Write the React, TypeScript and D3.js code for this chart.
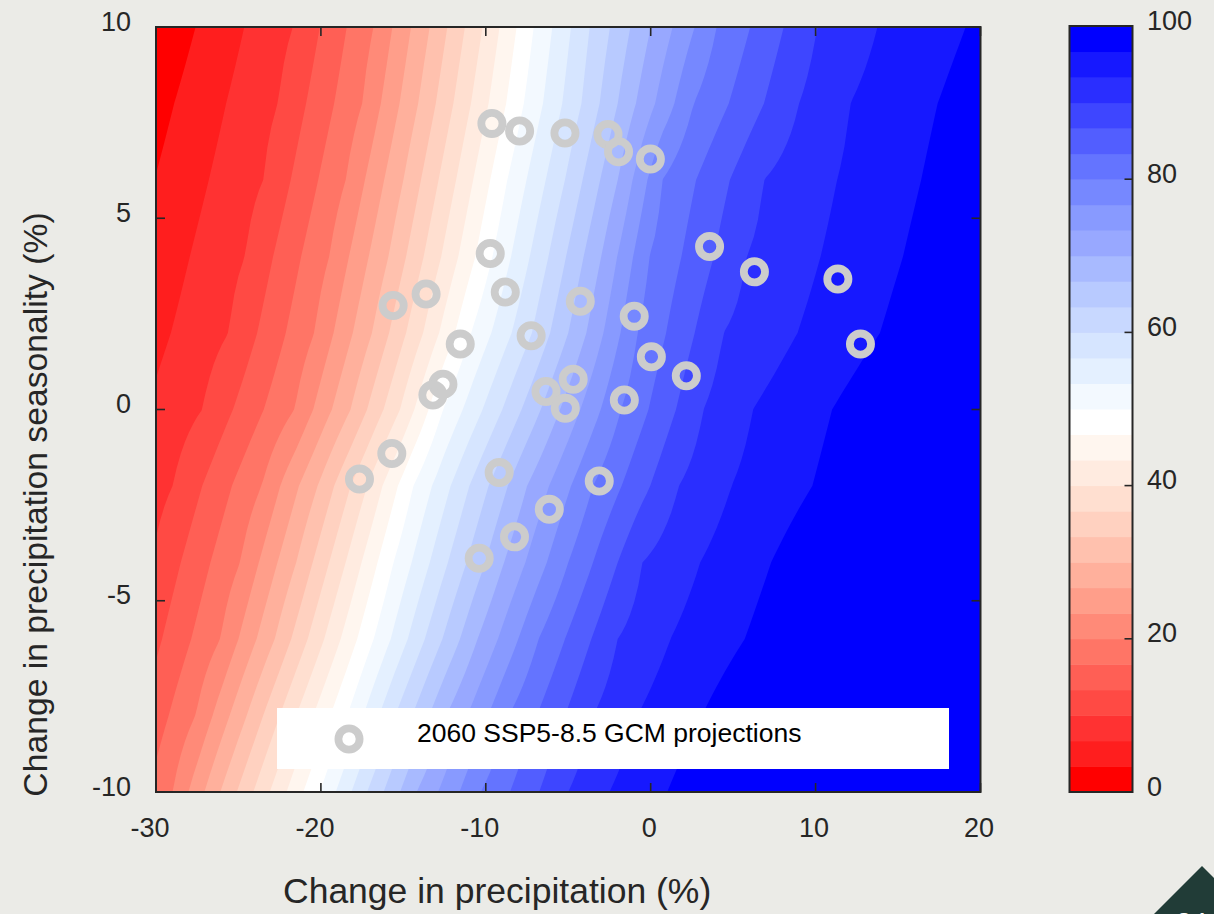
import React, { useMemo } from 'react';
import * as d3 from 'd3';

// ---------- data ----------
// contour rows (y values, %) and, for each row, the x positions (%) of the isolines
const rowY = [10, 8, 6, 4, 2, 0, -2, -4, -6, -8, -10];
const isoLevels = [100 / 30, 10, 20, 30, 40, 50, 60, 70, 80, 90, 280 / 3, 290 / 3];
const isoY10 = [-27.6, -21.7, -16.8, -13.4, -10.2, -7.1, -3.7, 0.0, 4.0, 10.1, 13.75, 19.1];
const isoY8 = [-28.9, -22.6, -17.5, -14.1, -10.9, -7.7, -4.2, -0.9, 2.6, 9.0, 12.1, 17.4];
const isoY6 = [-30.1, -23.5, -18.5, -15.0, -11.8, -8.7, -5.2, -2.0, 0.7, 6.85, 11.3, 16.4];
const isoY4 = [-31.3, -24.6, -19.5, -15.9, -12.7, -9.6, -6.2, -3.0, -0.1, 5.8, 10.3, 15.3];
const isoY2 = [-32.6, -25.6, -20.4, -16.9, -13.8, -10.9, -7.2, -3.9, -0.8, 4.4, 8.9, 13.9];
const isoY0 = [-34.0, -27.2, -21.6, -18.2, -15.2, -12.6, -9.0, -5.5, -1.8, 3.2, 6.2, 11.0];
const isoYm2 = [-35.0, -29.0, -23.6, -20.2, -17.2, -14.4, -11.0, -7.5, -3.5, 1.7, 4.9, 9.8];
const isoYm4 = [-36.0, -30.3, -24.9, -21.5, -18.5, -15.6, -12.3, -8.9, -5.0, -0.5, 3.0, 7.3];
const isoYm6 = [-37.0, -31.4, -26.1, -22.8, -19.8, -16.8, -13.7, -10.5, -6.8, -2.0, 1.2, 5.7];
const isoYm8 = [-38.0, -32.5, -27.6, -24.5, -21.5, -18.4, -15.5, -12.4, -8.6, -3.5, -0.8, 3.1];
const isoYm10 = [-39.0, -33.5, -29.0, -26.1, -23.1, -20.05, -17.2, -14.2, -10.3, -5.0, -2.5, 1.0];

// GCM projections: change in precipitation (%), change in seasonality (%)
const gcmX = [-9.63, -7.95, -5.2, -2.59, -1.95, -0.02, -9.73, 3.57, 6.29, 11.35, 12.72, -15.62, -13.62, -8.82, -4.27, -1.0, -11.55, -7.25, 0.04, 2.16, -12.6, -13.21, -6.35, -4.7, -5.18, -1.6, -15.7, -17.66, -9.19, -3.12, -6.15, -8.26, -10.4];
const gcmY = [7.48, 7.28, 7.23, 7.19, 6.74, 6.55, 4.08, 4.26, 3.6, 3.41, 1.71, 2.72, 3.02, 3.07, 2.83, 2.44, 1.71, 1.93, 1.38, 0.88, 0.66, 0.38, 0.47, 0.79, 0.03, 0.25, -1.15, -1.82, -1.65, -1.87, -2.61, -3.33, -3.89];

const xTicks = [-30, -20, -10, 0, 10, 20];
const yTicks = [-10, -5, 0, 5, 10];
const cbTicks = [0, 20, 40, 60, 80, 100];

// 30 colour levels (0 -> 100)
const levelColors = [
  '#ff0000', '#ff1e1e', '#ff3232', '#ff4a44', '#ff5f55', '#ff7566', '#ff8a78', '#ff9e8a',
  '#ffb09c', '#ffc1ae', '#ffd1c0', '#ffdfd0', '#ffebe0', '#fff6ef', '#ffffff',
  '#f3f9ff', '#e4f0ff', '#d6e5ff', '#c8d8ff', '#b8caff', '#a8baff', '#98a8ff', '#889aff',
  '#7688ff', '#6474ff', '#525eff', '#3e46ff', '#2a2eff', '#1618ff', '#0000ff',
];

const legendLabel = '2060 SSP5-8.5 GCM projections';
const xLabel = 'Change in precipitation (%)';
const yLabel = 'Change in precipitation seasonality (%)';

const FONT = '"Liberation Sans", Arial, Helvetica, sans-serif';

function rowValue(knots: number[], xv: number): number {
  const L = isoLevels;
  const n = knots.length;
  let v: number;
  if (xv <= knots[0]) {
    const s = (L[1] - L[0]) / (knots[1] - knots[0]);
    v = L[0] + (xv - knots[0]) * s;
  } else if (xv >= knots[n - 1]) {
    const s = (L[n - 1] - L[n - 2]) / (knots[n - 1] - knots[n - 2]);
    v = L[n - 1] + (xv - knots[n - 1]) * s;
  } else {
    let k = 0;
    while (k < n - 2 && xv > knots[k + 1]) k++;
    const t = (xv - knots[k]) / (knots[k + 1] - knots[k]);
    v = L[k] + t * (L[k + 1] - L[k]);
  }
  return Math.max(0, Math.min(100, v));
}

export default function App() {
  const W = 1214;
  const H = 914;
  const x = d3.scaleLinear().domain([-30, 20]).range([156, 980.5]);
  const y = d3.scaleLinear().domain([-10, 10]).range([792, 27]);
  const cb = d3.scaleLinear().domain([0, 100]).range([792, 26]);

  const paths = useMemo(() => {
    const rows = [isoY10, isoY8, isoY6, isoY4, isoY2, isoY0, isoYm2, isoYm4, isoYm6, isoYm8, isoYm10];
    const dxs = 0.25;
    const NX = Math.round(50 / dxs) + 1;
    const NY = rows.length;
    const values: number[] = new Array(NX * NY);
    for (let j = 0; j < NY; j++) {
      for (let i = 0; i < NX; i++) {
        values[j * NX + i] = rowValue(rows[j], -30 + i * dxs);
      }
    }
    const thresholds = d3.range(30).map((k) => (k * 100) / 30);
    const contours = d3.contours().size([NX, NY]).thresholds(thresholds)(values);
    const dy = rowY[0] - rowY[1];
    const proj = d3.geoTransform({
      point(px: number, py: number) {
        (this as any).stream.point(x(-30 + (px - 0.5) * dxs), y(rowY[0] - (py - 0.5) * dy));
      },
    });
    const gp = d3.geoPath(proj as any);
    return contours.map((c, k) => ({ d: gp(c as any) || '', color: levelColors[k] }));
  }, []);

  const axisColor = '#262626';
  const tickFs = 27;
  const x0 = x(-30), x1 = x(20), y0 = y(10), y1 = y(-10);
  const cbL = 1069.5, cbR = 1132.5;

  return (
    <svg width={W} height={H} style={{ position: 'absolute', left: 0, top: 0 }} fontFamily={FONT}>
      <rect x={0} y={0} width={W} height={H} fill="#ebebe7" />
      <defs>
        <clipPath id="plotclip">
          <rect x={x0} y={y0} width={x1 - x0} height={y1 - y0} />
        </clipPath>
      </defs>
      <g clipPath="url(#plotclip)">
        {paths.map((p, k) => (
          <path key={k} d={p.d} fill={p.color} stroke="none" />
        ))}
      </g>
      {/* axes box and ticks */}
      <rect x={x0} y={y0} width={x1 - x0} height={y1 - y0} fill="none" stroke={axisColor} strokeWidth={2} />
      {xTicks.map((v) => (
        <g key={'xt' + v}>
          <line x1={x(v)} x2={x(v)} y1={y1} y2={y1 - 9} stroke={axisColor} strokeWidth={1.6} />
          <line x1={x(v)} x2={x(v)} y1={y0} y2={y0 + 9} stroke={axisColor} strokeWidth={1.6} />
          <text
            x={x(v) + (String(Math.abs(v)).length * 0.556 * tickFs) / 2 - 1.5}
            y={836.5}
            textAnchor="end"
            fontSize={tickFs}
            fill={axisColor}
          >
            {String(v)}
          </text>
        </g>
      ))}
      {yTicks.map((v) => (
        <g key={'yt' + v}>
          <line x1={x0} x2={x0 + 9} y1={y(v)} y2={y(v)} stroke={axisColor} strokeWidth={1.6} />
          <line x1={x1} x2={x1 - 9} y1={y(v)} y2={y(v)} stroke={axisColor} strokeWidth={1.6} />
          <text x={131} y={y(v) + 3.7} textAnchor="end" fontSize={tickFs} fill={axisColor}>
            {String(v)}
          </text>
        </g>
      ))}
      {/* GCM points */}
      {gcmX.map((gx, i) => (
        <circle key={'p' + i} cx={x(gx)} cy={y(gcmY[i])} r={10.6} fill="none" stroke="#cccccc" strokeWidth={7.8} />
      ))}
      {/* legend */}
      <rect x={277} y={708} width={672} height={61} fill="#ffffff" />
      <circle cx={349} cy={739} r={10.6} fill="none" stroke="#cccccc" strokeWidth={7.8} />
      <text x={417} y={742.3} fontSize={26.5} fill="#000000">
        {legendLabel}
      </text>
      {/* colorbar */}
      {levelColors.map((c, k) => (
        <rect
          key={'cb' + k}
          x={cbL}
          y={cb(((k + 1) * 100) / 30)}
          width={cbR - cbL}
          height={cb((k * 100) / 30) - cb(((k + 1) * 100) / 30) + 0.5}
          fill={c}
        />
      ))}
      <rect x={cbL} y={cb(100)} width={cbR - cbL} height={cb(0) - cb(100)} fill="none" stroke={axisColor} strokeWidth={2} />
      {cbTicks.map((v) => (
        <g key={'cbt' + v}>
          <line x1={cbR} x2={cbR - 8} y1={cb(v)} y2={cb(v)} stroke={axisColor} strokeWidth={1.6} />
          <text x={1147} y={cb(v) + 3.5} fontSize={tickFs} fill={axisColor}>
            {String(v)}
          </text>
        </g>
      ))}
      {/* axis labels */}
      <text x={283} y={903} fontSize={35.5} fill={axisColor}>
        {xLabel}
      </text>
      <text
        transform={`translate(47,504.5) rotate(-90)`}
        textAnchor="middle"
        fontSize={33.7}
        fill={axisColor}
      >
        {yLabel}
      </text>
      {/* slide corner decoration */}
      <path d="M1202,866 L1154,914 L1214,914 L1214,878 Z" fill="#213c37" />
      <text x={1176} y={932} fontSize={28} fill="#ffffff">
        24
      </text>
    </svg>
  );
}
